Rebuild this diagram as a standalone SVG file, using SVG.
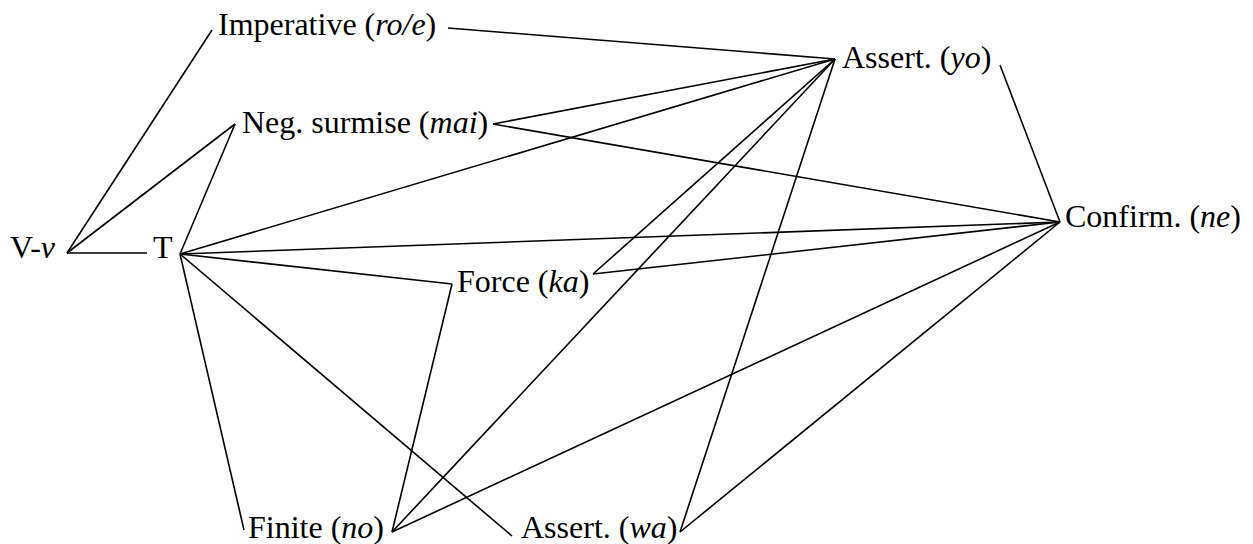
<svg xmlns="http://www.w3.org/2000/svg" width="1253" height="544" viewBox="0 0 1253 544">
<style>
text{font-family:"Liberation Serif","Times New Roman",serif;font-size:32px;fill:#000}
.i{font-style:italic}
#edges line{stroke:#000;stroke-width:1.6;fill:none}
</style>
<rect width="1253" height="544" fill="#fff"/>
<g id="edges">
<line x1="67" y1="253" x2="212" y2="30"/>
<line x1="67" y1="253" x2="235" y2="124"/>
<line x1="67" y1="253" x2="147" y2="253"/>
<line x1="180" y1="254" x2="235" y2="124"/>
<line x1="180" y1="254" x2="835" y2="59"/>
<line x1="180" y1="254" x2="1060" y2="222"/>
<line x1="180" y1="254" x2="452" y2="284"/>
<line x1="180" y1="254" x2="244" y2="530"/>
<line x1="180" y1="254" x2="512" y2="536"/>
<line x1="448" y1="28" x2="835" y2="59"/>
<line x1="493" y1="124" x2="835" y2="59"/>
<line x1="493" y1="124" x2="1060" y2="222"/>
<line x1="1000" y1="65" x2="1060" y2="222"/>
<line x1="593" y1="274" x2="835" y2="59"/>
<line x1="593" y1="274" x2="1060" y2="222"/>
<line x1="392" y1="532" x2="452" y2="284"/>
<line x1="392" y1="532" x2="835" y2="59"/>
<line x1="392" y1="532" x2="1060" y2="222"/>
<line x1="680" y1="532" x2="835" y2="59"/>
<line x1="680" y1="532" x2="1060" y2="222"/>
</g>
<g id="node-vv"><text x="10" y="258">V-<tspan class="i">v</tspan></text></g>
<g id="node-t"><text x="153" y="258">T</text></g>
<g id="node-imperative"><text x="218" y="35">Imperative (<tspan class="i">ro/e</tspan>)</text></g>
<g id="node-negsurmise"><text x="242" y="133">Neg. surmise (<tspan class="i">mai</tspan>)</text></g>
<g id="node-assert-yo"><text x="842" y="68">Assert. (<tspan class="i">yo</tspan>)</text></g>
<g id="node-confirm"><text x="1065" y="227">Confirm. (<tspan class="i">ne</tspan>)</text></g>
<g id="node-force"><text x="457" y="292">Force (<tspan class="i">ka</tspan>)</text></g>
<g id="node-finite"><text x="248" y="538">Finite (<tspan class="i">no</tspan>)</text></g>
<g id="node-assert-wa"><text x="521" y="538">Assert. (<tspan class="i">wa</tspan>)</text></g>
</svg>
